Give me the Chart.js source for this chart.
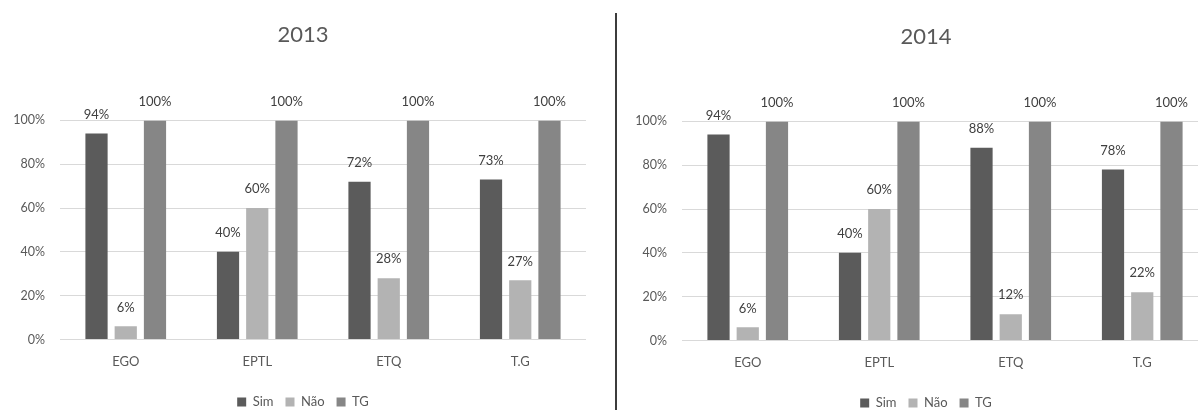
<!DOCTYPE html>
<html>
<head>
<meta charset="utf-8">
<script src="https://cdn.jsdelivr.net/npm/chart.js@4.4.1/dist/chart.umd.min.js"></script>
<style>
  html, body { margin: 0; padding: 0; background: #fff; overflow: hidden; width: 1198px; height: 410px; }
  .panel { position: absolute; top: 0; height: 410px; }
  #left { left: 0; width: 615px; }
  #right { left: 618px; width: 610px; }
  #divider { position: absolute; left: 615px; top: 13px; width: 2px; height: 397px; background: #3c3c3c; }
</style>
</head>
<body>
<div class="panel" id="left"><canvas id="c2013"></canvas></div>
<div id="divider"></div>
<div class="panel" id="right"><canvas id="c2014"></canvas></div>
<script>
// Schools surveyed
const categories = ['EGO', 'EPTL', 'ETQ', 'T.G'];
const seriesNames = ['Sim', 'Não', 'TG'];

// 2013 percentages
const sim2013 = [94, 40, 72, 73];
const nao2013 = [6, 60, 28, 27];
const tg2013 = [100, 100, 100, 100];

// 2014 percentages
const sim2014 = [94, 40, 88, 78];
const nao2014 = [6, 60, 12, 22];
const tg2014 = [100, 100, 100, 100];

const yTicks = [0, 20, 40, 60, 80, 100];

const colors = ['#5b5b5b', '#b3b3b3', '#868686'];
const FONT = 'Lato, "Open Sans", sans-serif';
Chart.defaults.font.family = FONT;
Chart.defaults.color = '#595959';

// Writes each bar's percentage above it
const valueLabels = {
  id: 'valueLabels',
  afterDatasetsDraw(chart) {
    const ctx = chart.ctx;
    ctx.save();
    ctx.font = '13px ' + FONT;
    ctx.fillStyle = '#404040';
    ctx.textAlign = 'center';
    ctx.textBaseline = 'middle';
    chart.data.datasets.forEach((ds, i) => {
      const meta = chart.getDatasetMeta(i);
      meta.data.forEach((bar, j) => {
        ctx.fillText(ds.data[j] + '%', bar.x, bar.y - 19);
      });
    });
    ctx.restore();
  }
};

function makeChart(id, title, sim, nao, tg, lay) {
  const values = [sim, nao, tg];
  return new Chart(document.getElementById(id), {
    type: 'bar',
    data: {
      labels: categories,
      datasets: seriesNames.map((name, i) => ({
        label: name,
        data: values[i],
        backgroundColor: colors[i],
        borderWidth: 0,
        categoryPercentage: 0.667,
        barPercentage: 0.76
      }))
    },
    options: {
      responsive: true,
      maintainAspectRatio: false,
      animation: false,
      layout: { padding: { left: lay.pl, right: lay.pr, top: 0, bottom: 0 } },
      plugins: {
        title: {
          display: true,
          text: title,
          color: '#595959',
          font: { size: 22, weight: 'normal', family: FONT },
          padding: { top: lay.tt, bottom: lay.tb }
        },
        legend: {
          position: 'bottom',
          maxHeight: lay.lh,
          labels: {
            boxWidth: 9,
            boxHeight: 9,
            padding: 12,
            color: '#595959',
            font: { size: 13, family: FONT }
          }
        },
        tooltip: { enabled: false }
      },
      scales: {
        x: {
          grid: { display: false, drawTicks: false },
          border: { display: false },
          ticks: { padding: 15, color: '#595959', font: { size: 13, family: FONT } },
          afterFit(scale) { scale.height = lay.xh; }
        },
        y: {
          min: 0,
          max: 100,
          afterBuildTicks(scale) { scale.ticks = yTicks.map(v => ({ value: v })); },
          grid: { color: '#d9d9d9', lineWidth: 1, drawTicks: false },
          border: { display: false },
          ticks: {
            padding: 15,
            color: '#595959',
            font: { size: 12.5, family: FONT },
            callback: v => v + '%'
          },
          afterFit(scale) { scale.width = lay.yw; }
        },
        // empty right-hand margin so the title and legend sit centred on the panel
        gutter: {
          type: 'linear',
          position: 'right',
          display: true,
          grid: { display: false, drawTicks: false },
          border: { display: false },
          ticks: { display: false },
          afterFit(scale) { scale.width = lay.gw; }
        }
      }
    },
    plugins: [valueLabels]
  });
}

makeChart('c2013', '2013', sim2013, nao2013, tg2013,
  { pl: 5, pr: 14, tt: 22, tb: 72, lh: 26.5, xh: 44, yw: 55, gw: 15 });
makeChart('c2014', '2014', sim2014, nao2014, tg2014,
  { pl: 10, pr: 4, tt: 24, tb: 71, lh: 25.5, xh: 44, yw: 54, gw: 16 });
</script>
</body>
</html>
